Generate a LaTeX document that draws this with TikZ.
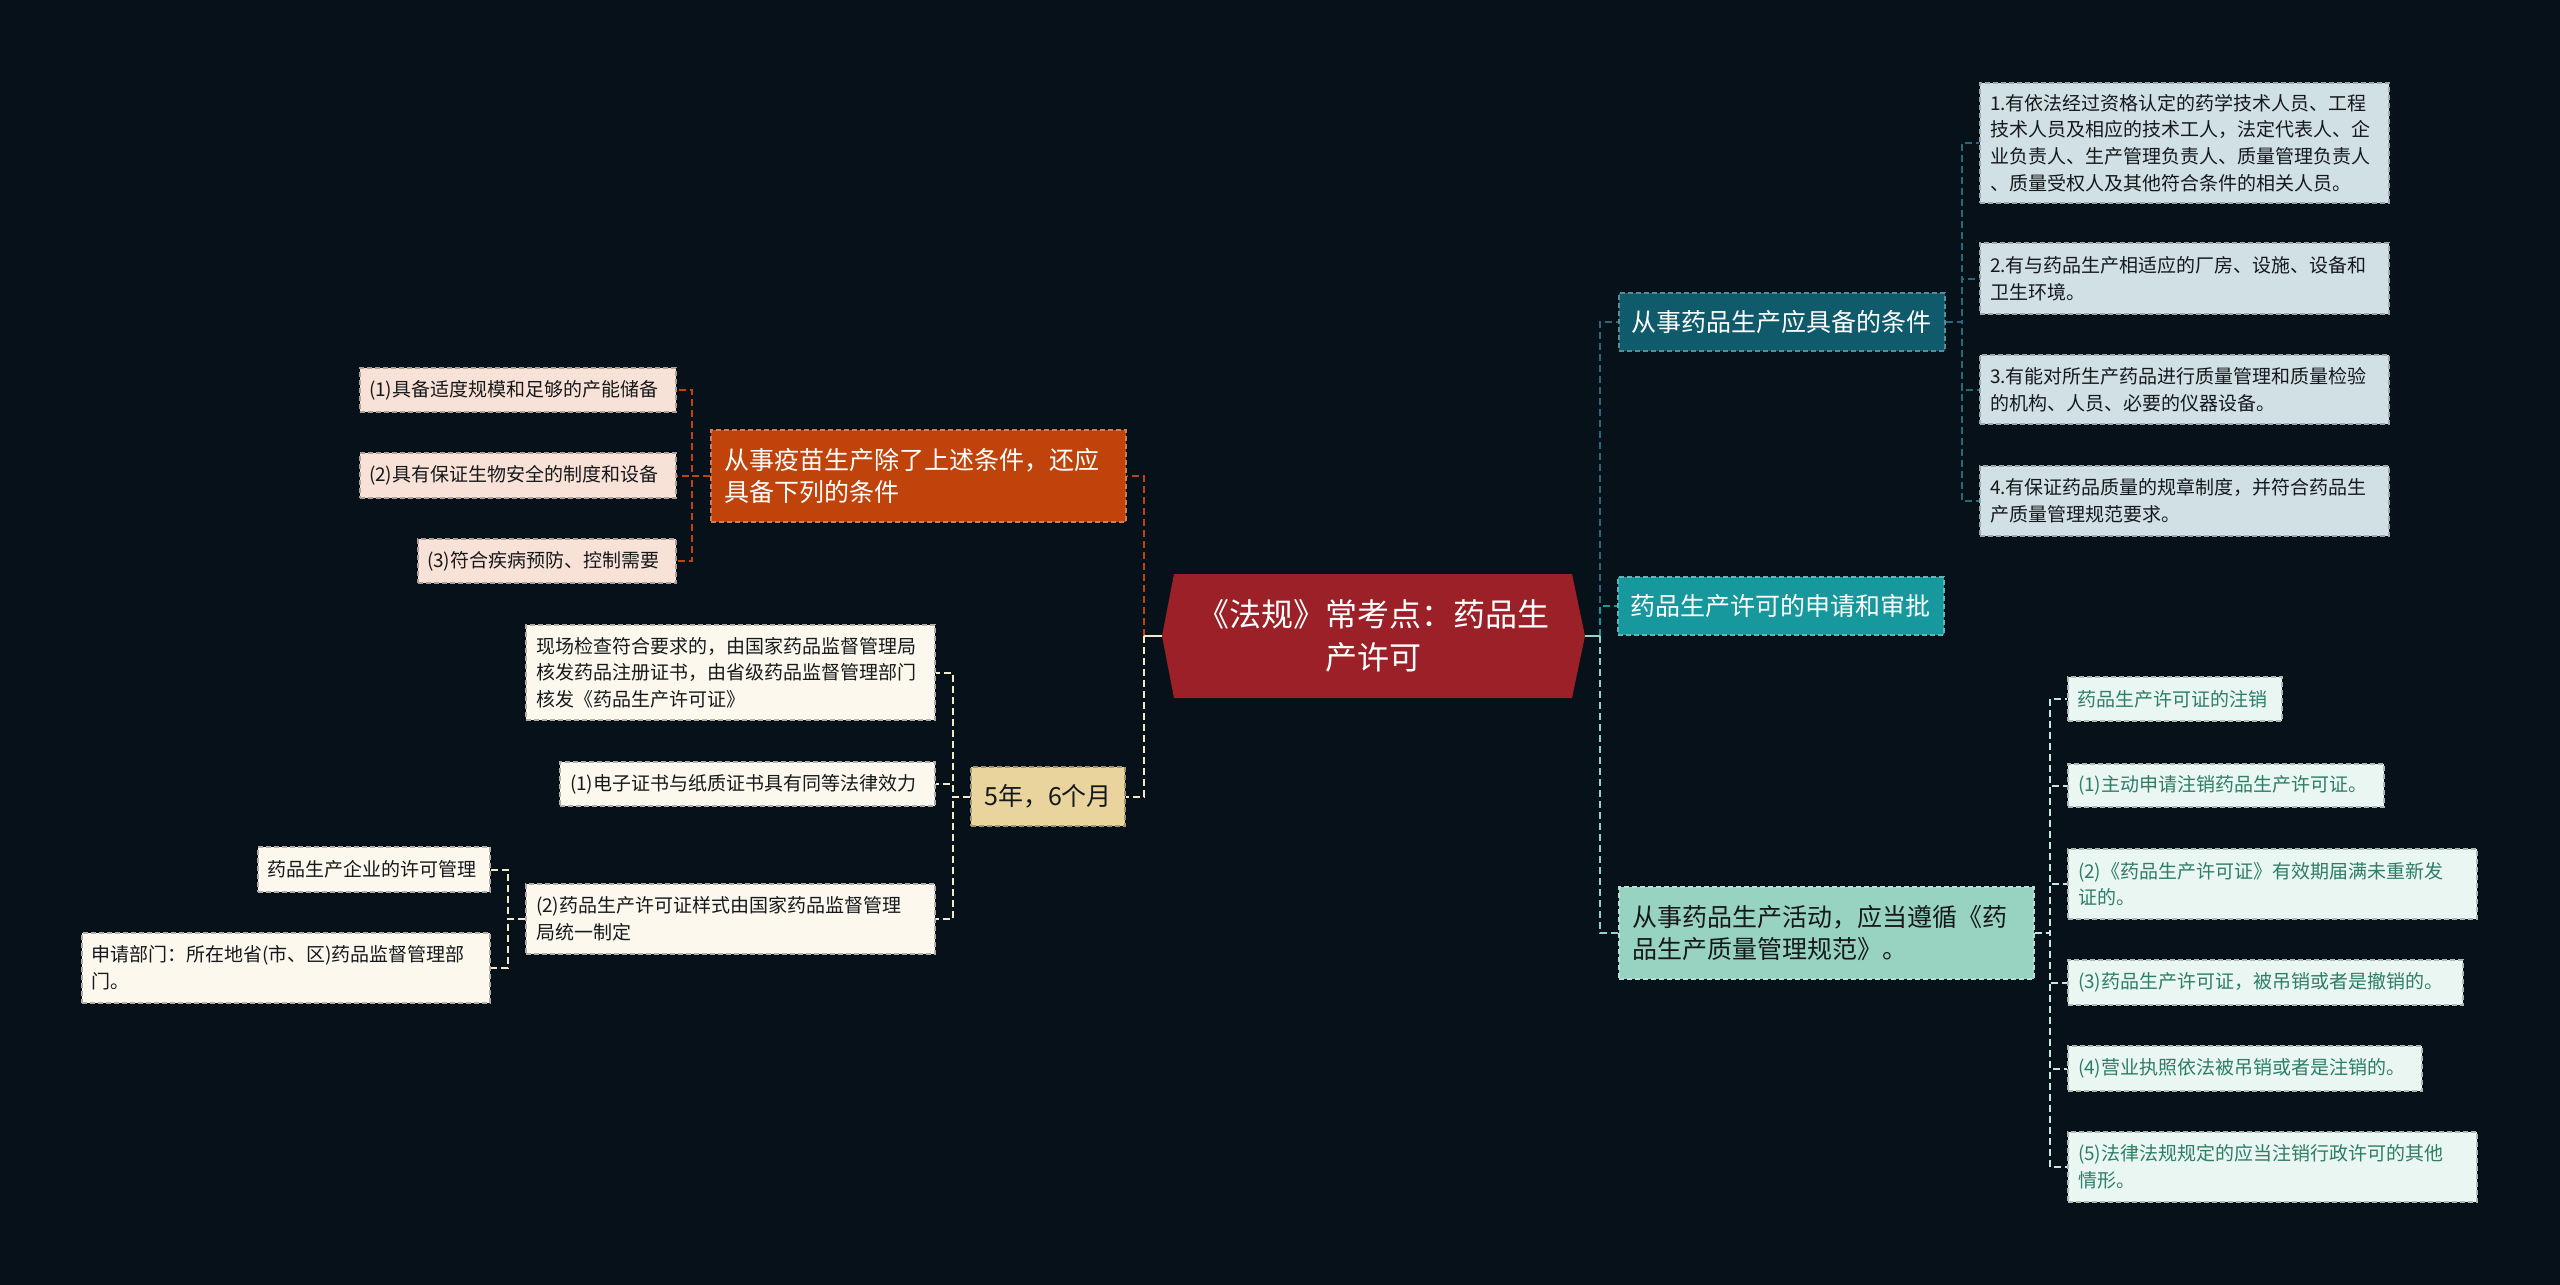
\documentclass[tikz,border=0pt]{standalone}
\usepackage{fontspec}
\setmainfont{Noto Sans CJK SC}
\usetikzlibrary{calc}
\definecolor{bg}{HTML}{06111A}
\definecolor{rootred}{HTML}{9B2027}
\definecolor{tealdk}{HTML}{0F5B6C}
\definecolor{tealmd}{HTML}{16989C}
\definecolor{mintc}{HTML}{97D3C0}
\definecolor{orangec}{HTML}{C0430B}
\definecolor{tanc}{HTML}{E8D49C}
\definecolor{cblue}{HTML}{D1E0E4}
\definecolor{cmint}{HTML}{EAF6F1}
\definecolor{cminttext}{HTML}{2E7D68}
\definecolor{cpink}{HTML}{F8E2D8}
\definecolor{ccream}{HTML}{FCF8EE}
\definecolor{darktext}{HTML}{16191B}
\definecolor{ltealdk}{HTML}{2A6878}
\definecolor{lmint}{HTML}{C6E8DC}
\definecolor{lcream}{HTML}{F3E9C6}
\tikzset{
  bx/.style={rectangle, inner sep=0pt, draw, line width=1.4pt, dash pattern=on 5pt off 3pt, align=left},
  lone/.style={bx, font=\fontsize{25}{32}\selectfont},
  ch/.style={bx, font=\fontsize{19}{26.7}\selectfont},
  eg/.style={line width=2pt, dash pattern=on 7pt off 4pt},
  stub/.style={line width=2.5pt},
}
\begin{document}
\begin{tikzpicture}[x=1pt,y=-1pt]
\fill[bg] (0,0) rectangle (2560,1285);
\useasboundingbox (0,0) rectangle (2560,1285);

% root
\fill[rootred] (1174,574) -- (1572,574) -- (1585,636) -- (1572,698) -- (1174,698) -- (1162,636) -- cycle;
\node[align=center, text=white, font=\fontsize{32}{43}\selectfont, minimum width=398pt, minimum height=124pt, inner sep=0pt] (root) at (1373.5,636) {《法规》常考点：药品生\\产许可};
\coordinate (rootR) at (1585,636);
\coordinate (rootL) at (1162,636);
\coordinate (rj) at (1600,636);
\coordinate (lj) at (1144,636);

% level 1 right
\node[lone, fill=tealdk, draw=tealdk!70!white, text=white, minimum width=326pt, minimum height=58pt, text width=302pt] (R1) at (1782,322) {从事药品生产应具备的条件};
\node[lone, fill=tealmd, draw=tealmd!70!white, text=white, minimum width=326pt, minimum height=58pt, text width=302pt] (R2) at (1781,606) {药品生产许可的申请和审批};
\node[lone, fill=mintc, draw=mintc!70!white, text=darktext, minimum width=415pt, minimum height=92pt, text width=389pt] (R3) at (1826.5,933) {从事药品生产活动，应当遵循《药\\品生产质量管理规范》。};

% level 1 left
\node[lone, fill=orangec, draw=orangec!70!white, text=white, minimum width=415pt, minimum height=92pt, text width=389pt] (L1) at (918.5,476) {从事疫苗生产除了上述条件，还应\\具备下列的条件};
\node[lone, fill=tanc, draw=tanc!70!black, text=darktext, align=center, minimum width=154pt, minimum height=59pt] (L2) at (1048,796.5) {5年，6个月};

% R1 children
\tikzset{ca/.style={ch, fill=cblue, draw=cblue!75!black, text=darktext, minimum width=409pt, text width=389pt}}
\node[ca, minimum height=120pt] (a1) at (2184.5,143) {1.有依法经过资格认定的药学技术人员、工程\\技术人员及相应的技术工人，法定代表人、企\\业负责人、生产管理负责人、质量管理负责人\\、质量受权人及其他符合条件的相关人员。};
\node[ca, minimum height=71pt] (a2) at (2184.5,278.5) {2.有与药品生产相适应的厂房、设施、设备和\\卫生环境。};
\node[ca, minimum height=69pt] (a3) at (2184.5,389.5) {3.有能对所生产药品进行质量管理和质量检验\\的机构、人员、必要的仪器设备。};
\node[ca, minimum height=70pt] (a4) at (2184.5,501) {4.有保证药品质量的规章制度，并符合药品生\\产质量管理规范要求。};

% R3 children
\tikzset{cb/.style={ch, fill=cmint, draw=cmint!75!black, text=cminttext}}
\node[cb, minimum width=214pt, minimum height=44pt, text width=196pt] (b0) at (2175,699) {药品生产许可证的注销};
\node[cb, minimum width=316pt, minimum height=43pt, text width=296pt] (b1) at (2226,785.5) {(1)主动申请注销药品生产许可证。};
\node[cb, minimum width=409pt, minimum height=70pt, text width=389pt] (b2) at (2272.5,884) {(2)《药品生产许可证》有效期届满未重新发\\证的。};
\node[cb, minimum width=395pt, minimum height=45pt, text width=375pt] (b3) at (2265.5,982.5) {(3)药品生产许可证，被吊销或者是撤销的。};
\node[cb, minimum width=354pt, minimum height=45pt, text width=334pt] (b4) at (2245,1068.5) {(4)营业执照依法被吊销或者是注销的。};
\node[cb, minimum width=409pt, minimum height=70pt, text width=389pt] (b5) at (2272.5,1167) {(5)法律法规规定的应当注销行政许可的其他\\情形。};

% L1 children
\tikzset{cp/.style={ch, fill=cpink, draw=cpink!70!black, text=darktext}}
\node[cp, minimum width=316pt, minimum height=44pt, text width=298pt] (p1) at (518,390) {(1)具备适度规模和足够的产能储备};
\node[cp, minimum width=316pt, minimum height=45pt, text width=298pt] (p2) at (518,475.5) {(2)具有保证生物安全的制度和设备};
\node[cp, minimum width=258pt, minimum height=44pt, text width=240pt] (p3) at (547,561) {(3)符合疾病预防、控制需要};

% L2 children
\tikzset{cq/.style={ch, fill=ccream, draw=ccream!70!black, text=darktext}}
\node[cq, minimum width=409pt, minimum height=95pt, text width=389pt] (q1) at (730.5,672.5) {现场检查符合要求的，由国家药品监督管理局\\核发药品注册证书，由省级药品监督管理部门\\核发《药品生产许可证》};
\node[cq, minimum width=375pt, minimum height=44pt, text width=355pt] (q2) at (747.5,784) {(1)电子证书与纸质证书具有同等法律效力};
\node[cq, minimum width=409pt, minimum height=70pt, text width=389pt] (q3) at (730.5,919) {(2)药品生产许可证样式由国家药品监督管理\\局统一制定};
\node[cq, minimum width=232pt, minimum height=45pt, text width=214pt] (r1) at (374,869.5) {药品生产企业的许可管理};
\node[cq, minimum width=408pt, minimum height=70pt, text width=390pt] (r2) at (286,968) {申请部门：所在地省(市、区)药品监督管理部\\门。};

% junction coordinates
\coordinate (R1j) at (1962,322);
\coordinate (R3j) at (2050,933);
\coordinate (L1j) at (692,476);
\coordinate (L2j) at (953,796.5);
\coordinate (q3j) at (508,919);

% edges: root right
\draw[eg, ltealdk] (rj) |- (R1.west);
\draw[eg, tealmd] (rj) |- (R2.west);
\draw[eg, mintc] (rj) |- (R3.west);
\draw[stub, mintc] (rootR) -- (rj);
% edges: root left
\draw[eg, orangec] (lj) |- (L1.east);
\draw[eg, lcream] (lj) |- (L2.east);
\draw[stub, lcream] (rootL) -- (lj);

% R1 children edges
\foreach \c in {a1,a2,a3,a4} \draw[eg, ltealdk] (R1.east) -- (R1j) |- (\c.west);
% R3 children edges
\foreach \c in {b0,b1,b2,b3,b4,b5} \draw[eg, lmint] (R3.east) -- (R3j) |- (\c.west);
% L1 children edges
\foreach \c in {p1,p2,p3} \draw[eg, orangec] (L1.west) -- (L1j) |- (\c.east);
% L2 children edges
\foreach \c in {q1,q2,q3} \draw[eg, lcream] (L2.west) -- (L2j) |- (\c.east);
% q3 children edges
\foreach \c in {r1,r2} \draw[eg, lcream] (q3.west) -- (q3j) |- (\c.east);
\end{tikzpicture}
\end{document}
